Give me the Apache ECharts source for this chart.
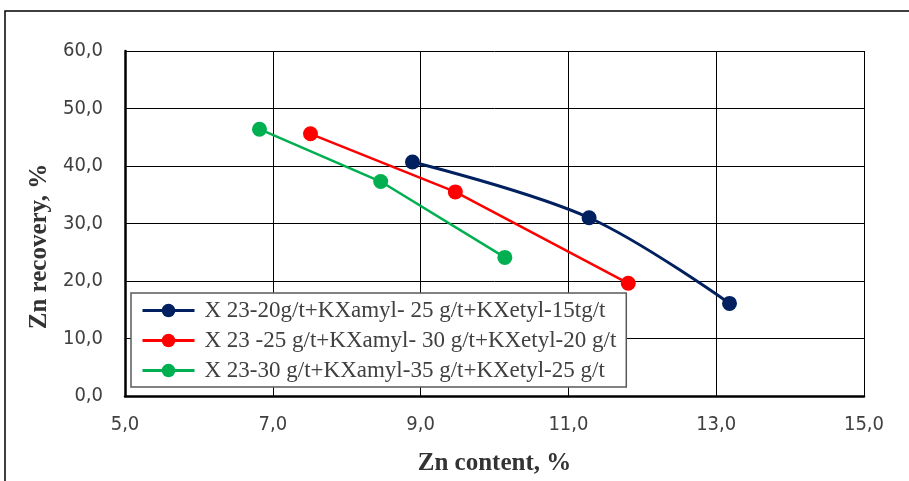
<!DOCTYPE html>
<html><head><meta charset="utf-8">
<script src="https://cdn.jsdelivr.net/npm/echarts@6/dist/echarts.min.js"></script>
<style>html,body{margin:0;padding:0;background:#fff}#c{width:909px;height:481px}</style>
</head><body><div id="c"></div>
<script>
var seriesNames = [
  'X 23-20g/t+KXamyl- 25 g/t+KXetyl-15tg/t',
  'X 23 -25 g/t+KXamyl- 30 g/t+KXetyl-20 g/t',
  'X 23-30 g/t+KXamyl-35 g/t+KXetyl-25 g/t'
];
var blueX = [8.89, 11.28, 13.18];
var blueY = [40.7, 31.0, 16.1];
var redX = [7.51, 9.47, 11.81];
var redY = [45.6, 35.5, 19.6];
var greenX = [6.82, 8.46, 10.14];
var greenY = [46.4, 37.3, 24.1];
var colors = ['#002060', '#FF0000', '#00B050'];

function pts(xs, ys){ return xs.map(function(x,i){ return [x, ys[i]]; }); }
var tickFont = '"Liberation Sans Narrow","DejaVu Sans Condensed","Roboto Condensed",sans-serif';
var serif = '"Liberation Serif","Times New Roman",serif';
var fmt = function(v){ return v.toFixed(1).replace('.', ','); };

var chart = echarts.init(document.getElementById('c'));
chart.setOption({
  animation: false,
  backgroundColor: '#fff',
  graphic: [{
    type: 'rect', shape: {x: 5, y: 11, width: 1000, height: 600},
    style: {fill: 'none', stroke: '#000', lineWidth: 1.5}, z: -10
  }],
  grid: {left: 125, right: 45, top: 51, bottom: 84},
  xAxis: {
    type: 'value', min: 5, max: 15, interval: 2,
    axisLine: {show: true, onZero: false, lineStyle: {color: '#000', width: 2.5}},
    axisTick: {show: false},
    splitLine: {show: true, lineStyle: {color: '#000', width: 1}},
    axisLabel: {formatter: fmt, color: '#404040', fontSize: 20, fontFamily: tickFont, margin: 19},
    name: 'Zn content, %', nameLocation: 'middle', nameGap: 55,
    nameTextStyle: {color: '#333', fontSize: 25, fontWeight: 'bold', fontFamily: serif}
  },
  yAxis: {
    type: 'value', min: 0, max: 60, interval: 10,
    axisLine: {show: true, onZero: false, lineStyle: {color: '#000', width: 2.5}},
    axisTick: {show: false},
    splitLine: {show: true, lineStyle: {color: '#000', width: 1}},
    axisLabel: {formatter: fmt, color: '#404040', fontSize: 20, fontFamily: tickFont, margin: 22},
    name: 'Zn recovery, %', nameLocation: 'middle', nameGap: 67, nameRotate: 90,
    nameTextStyle: {color: '#333', fontSize: 25, fontWeight: 'bold', fontFamily: serif, padding: [0, 46, 0, 0]}
  },
  legend: {
    orient: 'vertical', left: 131, top: 293,
    backgroundColor: '#fff', borderColor: '#595959', borderWidth: 1.5,
    padding: [6, 10, 5, 10], itemGap: 7, itemWidth: 52, itemHeight: 17,
    lineStyle: {width: 3},
    textStyle: {color: '#404040', fontSize: 23, fontFamily: serif, padding: [0, 0, 0, 5]},
    data: seriesNames
  },
  series: [
    {name: seriesNames[0], type: 'line', data: pts(blueX, blueY), smooth: 0.35,
     symbol: 'circle', symbolSize: 15, itemStyle: {color: colors[0]}, lineStyle: {color: colors[0], width: 3}},
    {name: seriesNames[1], type: 'line', data: pts(redX, redY),
     symbol: 'circle', symbolSize: 15, itemStyle: {color: colors[1]}, lineStyle: {color: colors[1], width: 2.5}},
    {name: seriesNames[2], type: 'line', data: pts(greenX, greenY),
     symbol: 'circle', symbolSize: 15, itemStyle: {color: colors[2]}, lineStyle: {color: colors[2], width: 2.5}}
  ]
});
</script></body></html>
